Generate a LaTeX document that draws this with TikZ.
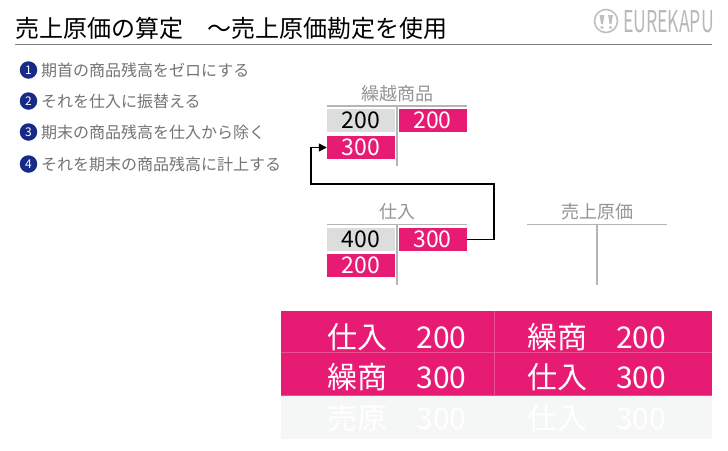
\documentclass[tikz,border=0pt]{standalone}
\usepackage{fontspec}
\setmainfont{Noto Sans CJK JP}
\usepackage{xcolor}
\usetikzlibrary{arrows.meta}
\usetikzlibrary{positioning}
\definecolor{kapupink}{HTML}{E71A74}
\definecolor{kapuline}{HTML}{EC5090}
\definecolor{kapugray}{HTML}{DCDDDD}
\definecolor{kapupale}{HTML}{F5F7F6}
\definecolor{kapunavy}{HTML}{172A88}
\definecolor{kapurule}{HTML}{B5B5B5}
\begin{document}
\begin{tikzpicture}[%
  x=1pt,y=-1pt,
  step num/.style={circle,fill=kapunavy,text=white,minimum size=17.5pt,inner sep=0pt,font=\fontsize{12}{12}\selectfont},
  step text/.style={anchor=west,inner sep=0pt,text=black!55,font=\fontsize{16}{16}\selectfont},
  acct title/.style={inner sep=0pt,text=black!42,font=\fontsize{18}{18}\selectfont},
  acct line/.style={draw=kapurule,line width=1.6pt},
  amount/.style={minimum width=68pt,minimum height=23.5pt,inner sep=0pt,font=\fontsize{23}{23}\selectfont},
  pink amount/.style={amount,fill=kapupink,text=white},
  gray amount/.style={amount,fill=kapugray,text=black},
  entry/.style={inner sep=0pt,font=\fontsize{30}{30}\selectfont},
  transfer/.style={draw=black,line width=1.5pt,-{Triangle[length=8pt,width=8pt]}}
  ]
  \useasboundingbox (0,0) rectangle (728,450);
  % Title and its rule
  \node[anchor=west,inner sep=0pt,font=\fontsize{24}{24}\selectfont] (title) at (15,28) {売上原価の算定　〜売上原価勘定を使用};
  \draw[black!50,line width=0.8pt] (15,44.5) -- (712,44.5);

  % Logo
  \draw[black!25,line width=1.6pt] (606,21) circle (11.5);
  \foreach \x in {602,610.5}
  \fill[black!25] (\x-2.4,15) -- (\x+2.4,15) -- (\x+1,24) -- (\x-1,24) -- cycle (\x,27.5) circle (1.6);
  \node[inner sep=0pt,text=black!28,xscale=0.59,transform shape,font=\fontsize{30}{30}\selectfont] (logo) at (668.5,22) {EUREKAPU};

  % The four steps
  \foreach \name / \y / \body in {1/70/期首の商品残高をゼロにする,2/101/それを仕入に振替える,3/132/期末の商品残高を仕入から除く,4/164/それを期末の商品残高に計上する}
  {
    \node[step num] (N-\name) at (28.5,\y) {\name};
    \node[step text] (T-\name) at (41,\y) {\body};
  }

  % T accounts
  \foreach \x / \y / \body in {397/106/繰越商品,397/224.5/仕入,597/224.5/売上原価}
  {
    \draw[acct line] (\x-70,\y) -- (\x+70,\y);
    \draw[acct line] (\x,\y) -- (\x,\y+60);
    \node[acct title] at (\x,\y-12.5) {\body};
  }

  \node[gray amount] (K-1) at (361,120.5) {200};
  \node[pink amount] (K-2) at (432.5,120.5) {200};
  \node[pink amount] (K-3) at (361,147.5) {300};
  \node[gray amount] (S-1) at (361,239.5) {400};
  \node[pink amount] (S-2) at (432.5,239.5) {300};
  \node[pink amount] (S-3) at (361,265.5) {200};

  % Transfer from the purchases account back to the stock account
  \coordinate (bend-r) at (494,184);
  \coordinate (bend-l) at (311,147.5);
  \draw[transfer] (S-2.east) -| (bend-r) -| (bend-l) -- (K-3.west);

  % Journal table
  \fill[kapupink] (281,311) rectangle (712,395);
  \fill[kapupale] (281,395) rectangle (712,438.5);
  \draw[kapuline,line width=0.5pt] (281,352.5) -- (712,352.5) (494.5,311) -- (494.5,395);
  \draw[kapuline,line width=0.8pt] (281,395) -- (712,395);
  \foreach \name / \y / \colr / \da / \damt / \ca / \camt in {1/337/white/仕入/200/繰商/200,2/377/white/繰商/300/仕入/300,3/418/white/売原/300/仕入/300}
  {
    \node[entry,text=\colr] (D-\name) at (357,\y) {\da};
    \node[entry,text=\colr] (DA-\name) at (441.5,\y+0.7) {\damt};
    \node[entry,text=\colr] (C-\name) at (557,\y) {\ca};
    \node[entry,text=\colr] (CA-\name) at (641,\y+0.7) {\camt};
  }
\end{tikzpicture}
\end{document}
